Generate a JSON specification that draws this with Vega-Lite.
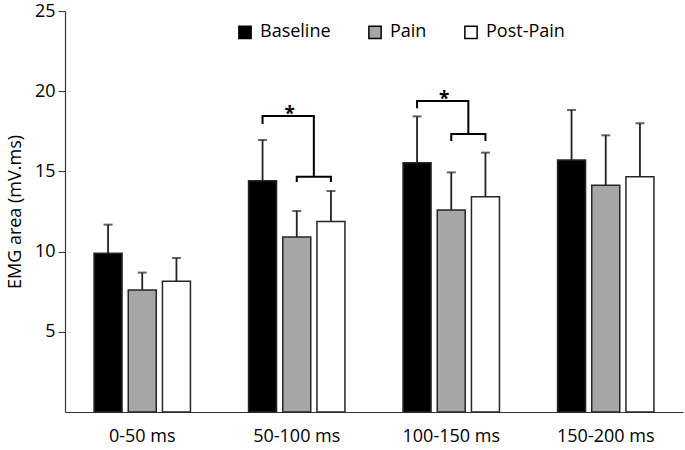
{
  "$schema": "https://vega.github.io/schema/vega-lite/v6.json",
  "width": 618,
  "height": 401,
  "autosize": "none",
  "padding": {"left": 65, "top": 11, "right": 2, "bottom": 38},
  "background": "#ffffff",
  "config": {
    "font": "Open Sans",
    "view": {"stroke": null},
    "axis": {"labelFont": "Open Sans", "titleFont": "Open Sans", "labelColor": "#000000", "titleColor": "#000000", "domainColor": "#333333", "tickColor": "#333333", "grid": false}
  },
  "datasets": {
    "bars": [
      {"window": "0-50 ms", "condition": "Baseline", "mean": 9.89, "upper": 11.68},
      {"window": "0-50 ms", "condition": "Pain", "mean": 7.61, "upper": 8.69},
      {"window": "0-50 ms", "condition": "Post-Pain", "mean": 8.15, "upper": 9.6},
      {"window": "50-100 ms", "condition": "Baseline", "mean": 14.42, "upper": 16.96},
      {"window": "50-100 ms", "condition": "Pain", "mean": 10.91, "upper": 12.53},
      {"window": "50-100 ms", "condition": "Post-Pain", "mean": 11.87, "upper": 13.78},
      {"window": "100-150 ms", "condition": "Baseline", "mean": 15.54, "upper": 18.43},
      {"window": "100-150 ms", "condition": "Pain", "mean": 12.59, "upper": 14.94},
      {"window": "100-150 ms", "condition": "Post-Pain", "mean": 13.42, "upper": 16.17},
      {"window": "150-200 ms", "condition": "Baseline", "mean": 15.71, "upper": 18.83},
      {"window": "150-200 ms", "condition": "Pain", "mean": 14.13, "upper": 17.25},
      {"window": "150-200 ms", "condition": "Post-Pain", "mean": 14.67, "upper": 18.0}
    ],
    "brackets": [
      {"window": "50-100 ms", "id": "a", "seq": 1, "pos": "Baseline", "y": 17.95},
      {"window": "50-100 ms", "id": "a", "seq": 2, "pos": "Baseline", "y": 18.45},
      {"window": "50-100 ms", "id": "a", "seq": 3, "pos": "mid", "y": 18.45},
      {"window": "50-100 ms", "id": "a", "seq": 4, "pos": "mid", "y": 14.67},
      {"window": "50-100 ms", "id": "b", "seq": 1, "pos": "Pain", "y": 14.34},
      {"window": "50-100 ms", "id": "b", "seq": 2, "pos": "Pain", "y": 14.67},
      {"window": "50-100 ms", "id": "b", "seq": 3, "pos": "Post-Pain", "y": 14.67},
      {"window": "50-100 ms", "id": "b", "seq": 4, "pos": "Post-Pain", "y": 14.34},
      {"window": "100-150 ms", "id": "c", "seq": 1, "pos": "Baseline", "y": 18.93},
      {"window": "100-150 ms", "id": "c", "seq": 2, "pos": "Baseline", "y": 19.39},
      {"window": "100-150 ms", "id": "c", "seq": 3, "pos": "mid", "y": 19.39},
      {"window": "100-150 ms", "id": "c", "seq": 4, "pos": "mid", "y": 17.33},
      {"window": "100-150 ms", "id": "d", "seq": 1, "pos": "Pain", "y": 16.9},
      {"window": "100-150 ms", "id": "d", "seq": 2, "pos": "Pain", "y": 17.33},
      {"window": "100-150 ms", "id": "d", "seq": 3, "pos": "Post-Pain", "y": 17.33},
      {"window": "100-150 ms", "id": "d", "seq": 4, "pos": "Post-Pain", "y": 16.9}
    ],
    "stars": [
      {"window": "50-100 ms", "pos": "g1", "y": 18.58, "label": "*"},
      {"window": "100-150 ms", "pos": "g1", "y": 19.52, "label": "*"}
    ]
  },
  "encoding": {
    "x": {
      "field": "window",
      "type": "nominal",
      "sort": ["0-50 ms", "50-100 ms", "100-150 ms", "150-200 ms"],
      "scale": {"domain": ["0-50 ms", "50-100 ms", "100-150 ms", "150-200 ms"], "paddingInner": 0, "paddingOuter": 0},
      "axis": {"title": null, "ticks": false, "labelAngle": 0, "labelFontSize": 18, "labelPadding": 15, "domainWidth": 1.2}
    }
  },
  "layer": [
    {
      "data": {"name": "bars"},
      "mark": {"type": "bar", "width": 28, "stroke": "#262626", "strokeWidth": 1.5},
      "encoding": {
        "xOffset": {"field": "condition", "type": "nominal", "scale": {"type": "band", "domain": ["p1", "p2", "Baseline", "g1", "Pain", "mid", "Post-Pain", "p3", "p4"], "paddingInner": 0, "paddingOuter": 0.018}},
        "y": {
          "field": "mean",
          "type": "quantitative",
          "scale": {"domain": [0, 25], "nice": false},
          "axis": {"values": [5, 10, 15, 20, 25], "title": "EMG area (mV.ms)", "titleFontSize": 18, "titleFontWeight": "normal", "titlePadding": 10, "labelFontSize": 18, "tickSize": 7, "labelPadding": 3, "domainWidth": 1.2}
        },
        "fill": {
          "field": "condition",
          "type": "nominal",
          "scale": {"domain": ["Baseline", "Pain", "Post-Pain"], "range": ["#000000", "#a6a6a6", "#ffffff"]},
          "legend": {"orient": "none", "legendX": 171, "legendY": 12, "direction": "horizontal", "title": null, "symbolType": "square", "symbolSize": 150, "symbolStrokeColor": "#000000", "symbolStrokeWidth": 1.5, "labelFontSize": 18, "labelFont": "Open Sans", "labelColor": "#000000", "columnPadding": 34, "labelOffset": 6}
        }
      }
    },
    {
      "data": {"name": "bars"},
      "mark": {"type": "rule", "color": "#222222", "strokeWidth": 1.8},
      "encoding": {
        "xOffset": {"field": "condition", "type": "nominal"},
        "y": {"field": "mean", "type": "quantitative"},
        "y2": {"field": "upper"}
      }
    },
    {
      "data": {"name": "bars"},
      "mark": {"type": "tick", "color": "#222222", "size": 9, "thickness": 2},
      "encoding": {
        "xOffset": {"field": "condition", "type": "nominal"},
        "y": {"field": "upper", "type": "quantitative"}
      }
    },
    {
      "data": {"name": "brackets"},
      "mark": {"type": "line", "color": "#000000", "strokeWidth": 2},
      "encoding": {
        "xOffset": {"field": "pos", "type": "nominal"},
        "y": {"field": "y", "type": "quantitative"},
        "detail": {"field": "id", "type": "nominal"},
        "order": {"field": "seq", "type": "quantitative"}
      }
    },
    {
      "data": {"name": "stars"},
      "mark": {"type": "text", "fontSize": 19, "font": "Open Sans", "fontWeight": "bold", "color": "#000000", "baseline": "middle", "dx": 10},
      "encoding": {
        "xOffset": {"field": "pos", "type": "nominal"},
        "y": {"field": "y", "type": "quantitative"},
        "text": {"field": "label"}
      }
    }
  ]
}
